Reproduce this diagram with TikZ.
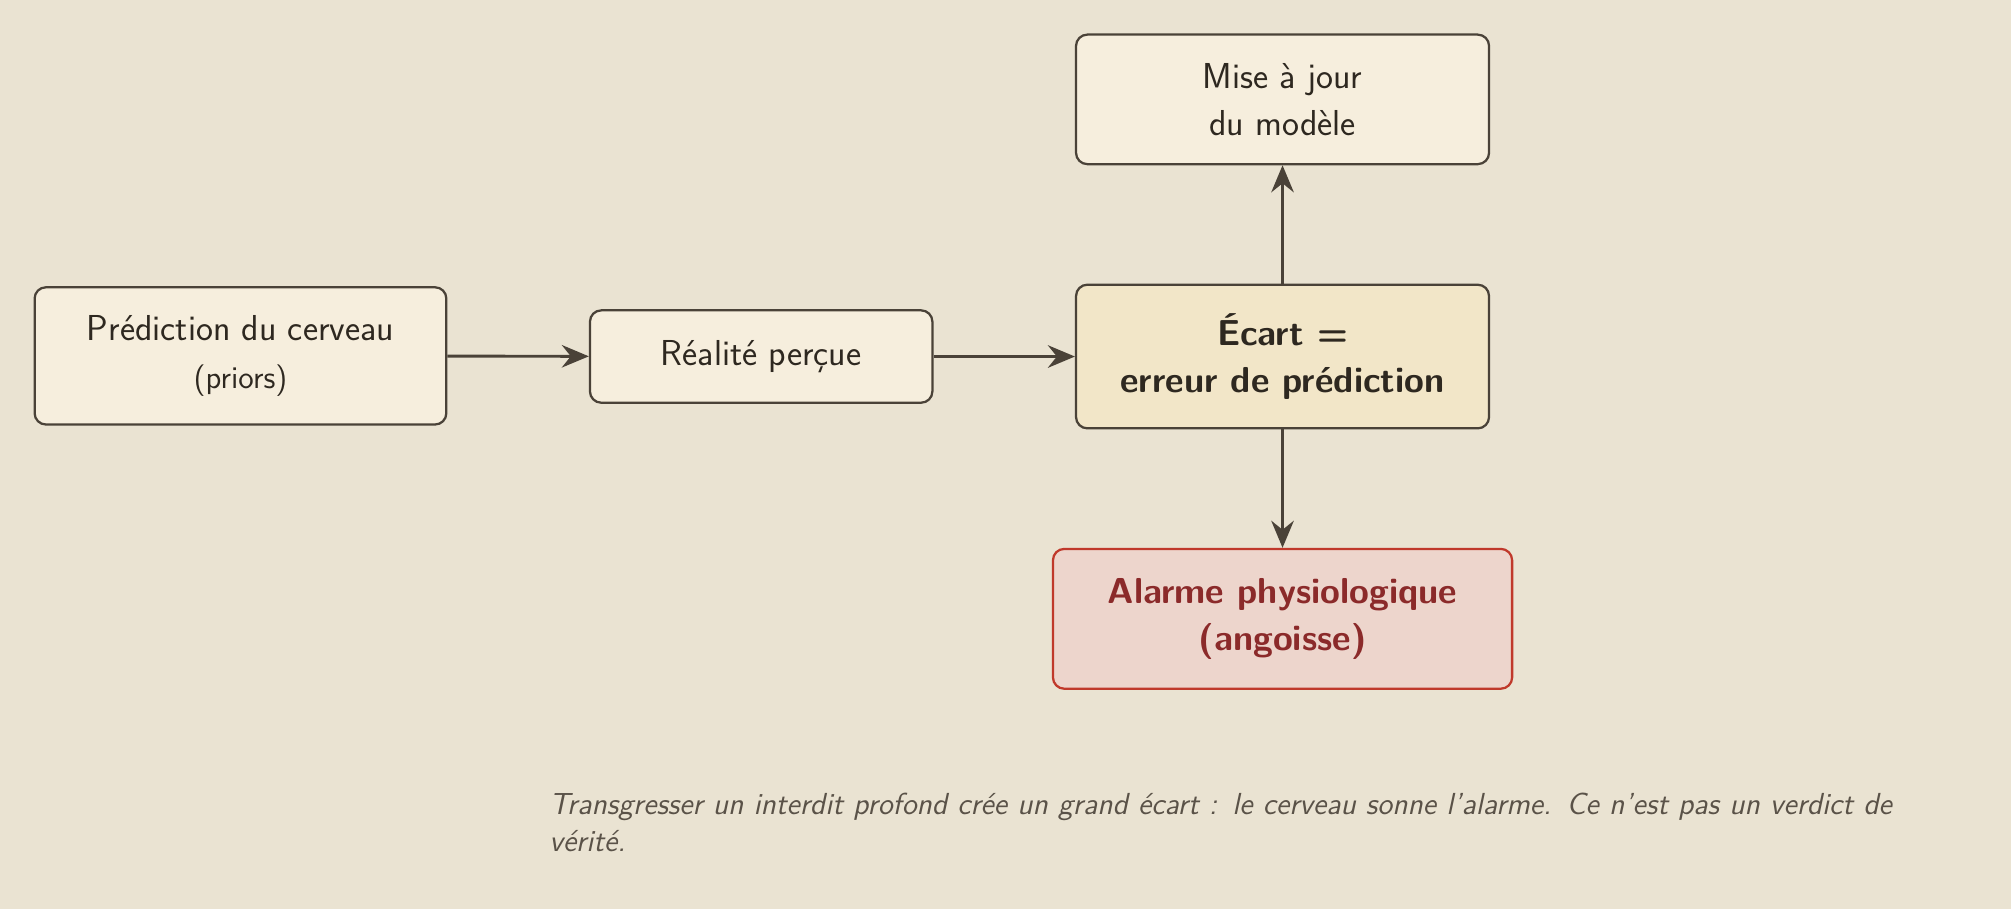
\documentclass[tikz,border=0pt]{standalone}
\usetikzlibrary{arrows.meta}
\definecolor{bg}{HTML}{EAE3D2}
\definecolor{boxfill}{HTML}{F6EEDD}
\definecolor{keyfill}{HTML}{F2E6C8}
\definecolor{edge}{HTML}{4A4238}
\definecolor{txt}{HTML}{2E2820}
\definecolor{alfill}{HTML}{EDD5CC}
\definecolor{aledge}{HTML}{C0392B}
\definecolor{altxt}{HTML}{8B2A2A}
\definecolor{cap}{HTML}{5A5248}
\begin{document}
\begin{tikzpicture}[
  box/.style={draw=edge,line width=1pt,rounded corners=5pt,fill=boxfill,text=txt,align=center,inner sep=0pt,font=\sffamily\fontsize{16}{21}\selectfont},
  arr/.style={draw=edge,line width=1.3pt,-{Stealth[length=12pt,width=10pt,inset=4pt]}}]
\fill[bg] (0,0) rectangle (31.36,14.18);
\node[box,minimum width=6.42cm,minimum height=2.14cm] (pred) at (3.75,8.63) {Prédiction du cerveau\\{\fontsize{14}{19}\selectfont (priors)}};
\node[box,minimum width=5.34cm,minimum height=1.44cm] (real) at (11.87,8.62) {Réalité perçue};
\node[box,fill=keyfill,minimum width=6.44cm,minimum height=2.24cm,font=\sffamily\bfseries\fontsize{16}{21}\selectfont] (ecart) at (20,8.62) {Écart =\\erreur de prédiction};
\node[box,minimum width=6.44cm,minimum height=2.02cm] (maj) at (20,12.63) {Mise à jour\\du modèle};
\node[box,fill=alfill,draw=aledge,text=altxt,minimum width=7.16cm,minimum height=2.18cm,font=\sffamily\bfseries\fontsize{16}{21}\selectfont] (alarm) at (20,4.53) {Alarme physiologique\\(angoisse)};
\draw[arr] (pred) -- (real);
\draw[arr] (real) -- (ecart);
\draw[arr] (ecart) -- (maj);
\draw[arr] (ecart) -- (alarm);
\node[anchor=north west,text width=21.6cm,align=left,inner sep=0pt,text=cap,font=\sffamily\itshape\fontsize{13.5}{16.5}\selectfont] (caption) at (8.56,1.82) {Transgresser un interdit profond crée un grand écart : le cerveau sonne l'alarme. Ce n'est pas un verdict de vérité.};
\end{tikzpicture}
\end{document}
